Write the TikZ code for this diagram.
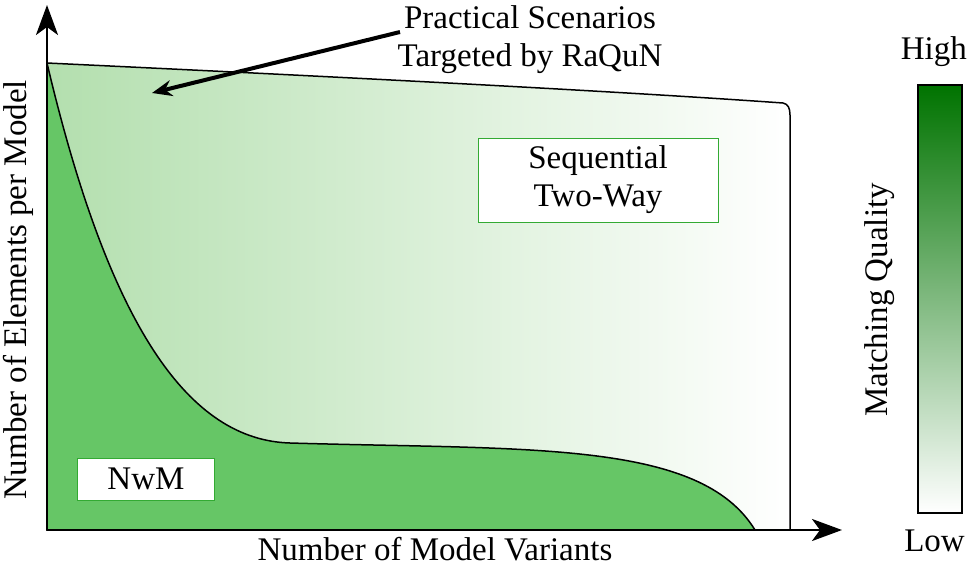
\documentclass[tikz,border=0pt]{standalone}
\usepackage{fontspec}
\setmainfont{Liberation Serif}
\usetikzlibrary{arrows.meta}
\definecolor{lg}{HTML}{B3DFAE}
\definecolor{dg}{HTML}{66C666}
\definecolor{bar}{HTML}{007300}
\definecolor{bx}{HTML}{33AA33}
\tikzset{lbl/.style={font=\fontsize{33}{38}\selectfont,inner sep=1pt},
 box/.style={draw=bx,fill=white,line width=1pt,lbl,align=center}}
\begin{document}
\begin{tikzpicture}[x=1pt,y=-1pt]
\useasboundingbox (0,0) rectangle (969,566);
\shade[left color=lg,right color=white,draw=black,line width=1.5pt]
 (47,63) .. controls (300,75) and (600,90) .. (783,103) .. controls (788,104) and (790,108) .. (790,115) -- (790,530) -- (47,530) -- cycle;
\fill[dg,draw=black,line width=1.5pt] (47,63) .. controls (110,330) and (190,440) .. (290,443)
 .. controls (530,450) and (700,440) .. (755,530) -- (47,530) -- cycle;
\coordinate (o) at (47,530);
\coordinate (ytip) at (47,5);
\coordinate (xtip) at (842,530);
\draw[line width=2.5pt,-{Stealth[length=30pt,width=22pt,inset=8pt]}] (o) -- (ytip);
\draw[line width=2.5pt,-{Stealth[length=30pt,width=22pt,inset=8pt]}] (o) -- (xtip);
\node[box,minimum width=240pt,minimum height=84pt] (seq) at (598,180) {Sequential\\Two-Way};
\node[box,minimum width=137pt,minimum height=42pt] (nwm) at (146,479) {NwM};
\node[lbl,align=center] (prac) at (530,40) {Practical Scenarios\\Targeted by RaQuN};
\coordinate (tgt) at (152,93);
\draw[line width=4pt,-{Stealth[length=20pt,width=16pt]}] (400,32) -- (tgt);
\shade[bottom color=white,top color=bar,draw=black,line width=1.5pt] (918,85) rectangle (962,513);
\node[lbl,anchor=east] (hi) at (968,52) {High};
\node[lbl,anchor=east] (lo) at (966,541) {Low};
\node[lbl,rotate=90] (mq) at (880,300) {Matching Quality};
\node[lbl,rotate=90] (yl) at (18,290) {Number of Elements per Model};
\node[lbl] (xl) at (435,549) {Number of Model Variants};
\end{tikzpicture}
\end{document}
